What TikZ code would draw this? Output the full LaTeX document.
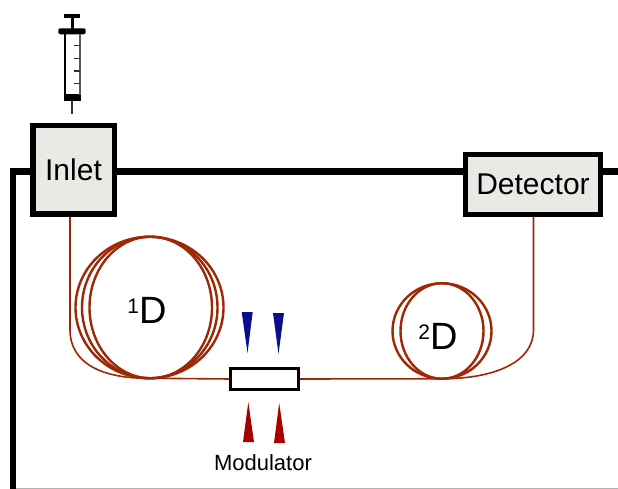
\documentclass[tikz,border=0pt]{standalone}
\usepackage{fontspec}
\setmainfont{Liberation Sans}
\usetikzlibrary{shapes.geometric}
\definecolor{tubered}{RGB}{158,40,5}
\definecolor{boxgrey}{RGB}{233,234,230}
\definecolor{jetblue}{RGB}{10,15,140}
\definecolor{jetred}{RGB}{168,0,0}
\newcommand{\supD}[1]{\raisebox{10pt}{\fontsize{21}{21}\selectfont #1}D}
\begin{document}
\begin{tikzpicture}[
  x=1pt, y=-1pt,
  unit/.style={draw=black, line width=5.5pt, fill=boxgrey, inner sep=0pt, font=\fontsize{30}{32}\selectfont},
  oven/.style={draw=black, line width=6.5pt},
  tube/.style={draw=tubered, line width=1.6pt},
  coil/.style={ellipse, draw=tubered, line width=2.4pt, inner sep=0pt, outer sep=0pt},
  coillabel/.style={anchor=base, inner sep=0pt, font=\fontsize{38}{40}\selectfont},
  jetb/.style={fill=jetblue},
  jetr/.style={fill=jetred}
]
\useasboundingbox (0,0) rectangle (618,489);
\coordinate (railL) at (13,171.5);
\coordinate (railR) at (618,171.5);
\coordinate (railB) at (13,489);
\coordinate (edgeL) at (16,488);
\coordinate (edgeR) at (618,488);
\coordinate (inport) at (70,217);
\coordinate (outport) at (533.5,217);
\node[unit, minimum width=81.5pt, minimum height=88.5pt] (Inlet) at (73.5,169.75) {Inlet};
\node[unit, minimum width=135pt, minimum height=60pt] (Detector) at (533,184.5) {Detector};
\node[draw=black, line width=3pt, fill=white, minimum width=68pt, minimum height=21pt, inner sep=0pt] (Mod) at (264.5,379) {};
\node[inner sep=0pt, font=\fontsize{22}{24}\selectfont] (Modlabel) at (263,463) {Modulator};
\node[coil, minimum width=148pt, minimum height=141.5pt] (coilA) at (149.5,307.5) {};
\node[coil, minimum width=135.5pt, minimum height=141.5pt] (coilB) at (149.75,307.5) {};
\node[coil, minimum width=122.5pt, minimum height=141.5pt] (coilC) at (150.75,307.5) {};
\node[coil, minimum width=99pt, minimum height=95.5pt] (coilE) at (442,331) {};
\node[coil, minimum width=83pt, minimum height=95.5pt] (coilF) at (442,331) {};
\node[coillabel] (labelA) at (147,323) {\supD{1}};
\node[coillabel] (labelB) at (438,349) {\supD{2}};
\draw[oven] (Inlet.west |- railL) -- (railL) -- (railB);
\draw[oven] (Inlet.east |- railL) -- (Detector.west |- railL);
\draw[oven] (Detector.east |- railR) -- (railR);
\draw[black!30, line width=1pt] (edgeL) -- (edgeR);
\draw[tube] (inport) -- ++(0,113) .. controls +(0,32) and (100,379) .. (coilC.south);
\draw[tube] (coilC.south) -- (Mod.west);
\draw[tube] (Mod.east) -- (coilF.south);
\draw[tube] (coilF.south) .. controls +(53,0) and (533.5,362) .. (533.5,330) -- (outport);
\fill[jetb] (241.7,312) -- (252.7,312) -- (247.5,353) -- cycle;
\fill[jetb] (273,313) -- (284,313) -- (278.5,354) -- cycle;
\fill[jetr] (243,442) -- (254,442) -- (248.3,402) -- cycle;
\fill[jetr] (274,443) -- (285,443) -- (279.2,403) -- cycle;
\fill[black] (64.3,14.3) rectangle (80,18.3);
\fill[black] (71,18) rectangle (73.7,29);
\fill[black, rounded corners=1.5pt] (58.3,28.3) rectangle (85.7,34.3);
\fill[black] (64.3,94.3) rectangle (80.7,101);
\draw[black, line width=1.3pt] (65,34) -- (65,95);
\draw[black!65, line width=1.7pt] (79.8,34) -- (79.8,95);
\foreach \y in {45.7,58.3,71,83.3}
  \draw[black!80, line width=1.2pt] (73.5,\y) -- (80,\y);
\draw[black!80, line width=1.2pt] (72,101) -- (72,114);
\end{tikzpicture}
\end{document}
